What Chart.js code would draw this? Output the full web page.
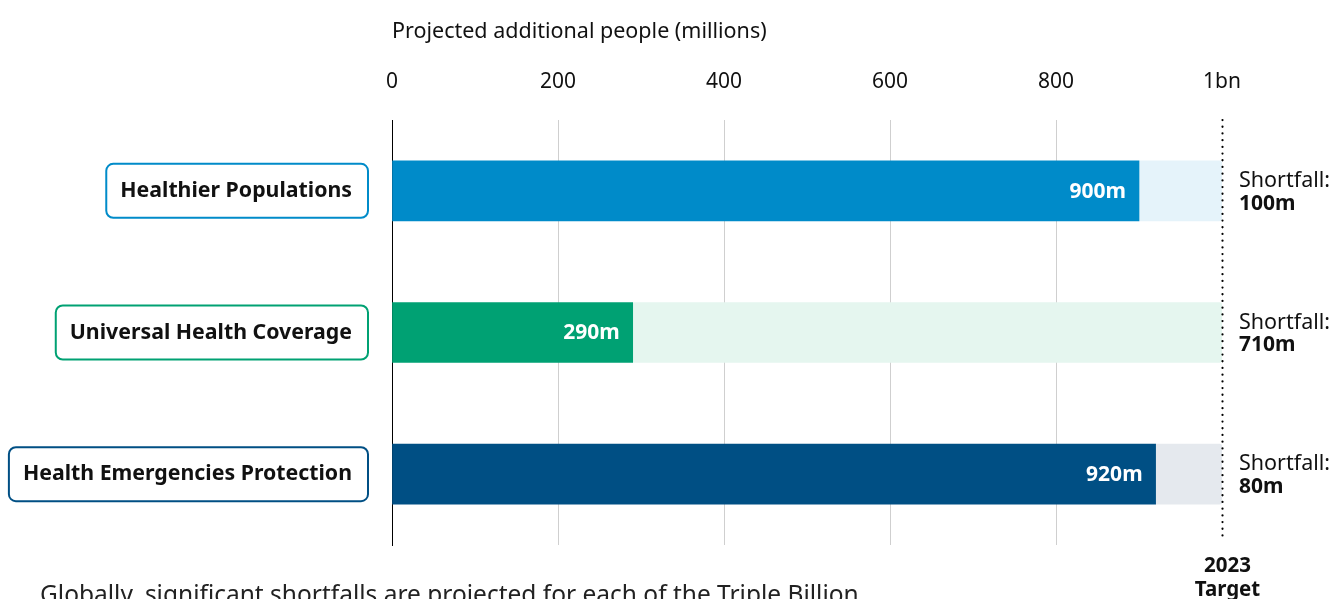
<!DOCTYPE html>
<html>
<head>
<meta charset="utf-8">
<script src="https://cdn.jsdelivr.net/npm/chart.js@4/dist/chart.umd.min.js"></script>
<style>
  html, body { margin: 0; padding: 0; background: #ffffff; overflow: hidden; }
  #wrap { position: relative; width: 1333px; height: 599px; }
</style>
</head>
<body>
<div id="wrap"><canvas id="chart" width="1333" height="599"></canvas></div>
<script>
// data
const categories = ['Healthier Populations', 'Universal Health Coverage', 'Health Emergencies Protection'];
const achieved = [900, 290, 920];
const shortfall = [100, 710, 80];
const target = 1000;
const tickValues = [0, 200, 400, 600, 800, 1000];
const tickLabels = ['0', '200', '400', '600', '800', '1bn'];

const barColors = ['#008bc9', '#00a173', '#004f84'];
const fadeColors = ['#e5f3fa', '#e5f6ef', '#e5e9ee'];

const FONT = '"Noto Sans", "Open Sans", sans-serif';

// boxed category labels, bar values, shortfall notes, target line
const annotate = {
    id: 'annotate',
    afterDatasetsDraw(chart) {
        const ctx = chart.ctx;
        const area = chart.chartArea;
        const xs = chart.scales.x;
        const mainMeta = chart.getDatasetMeta(0);

        ctx.save();

        //target line (dotted)
        const tx = Math.round(xs.getPixelForValue(target)) + 0.5;
        ctx.strokeStyle = '#000';
        ctx.lineWidth = 2.2;
        ctx.lineCap = 'round';
        ctx.setLineDash([0.1, 6.6]);
        ctx.beginPath();
        ctx.moveTo(tx, area.top);
        ctx.lineTo(tx, area.bottom - 9);
        ctx.stroke();
        ctx.setLineDash([]);

        categories.forEach((name, i) => {
            const bar = mainMeta.data[i];
            const cy = bar.y;

            // label box on the left
            ctx.font = 'bold 21.3px ' + FONT;
            const tw = ctx.measureText(name).width;
            const right = 368;
            const left = right - tw - 30;
            const h = 54;
            ctx.lineWidth = 2;
            ctx.strokeStyle = barColors[i];
            ctx.fillStyle = '#fff';
            ctx.beginPath();
            ctx.roundRect(left, cy - h / 2, right - left, h, 7);
            ctx.fill();
            ctx.stroke();
            ctx.fillStyle = '#111';
            ctx.textAlign = 'left';
            ctx.textBaseline = 'middle';
            ctx.fillText(name, left + 14, cy);

            // value inside the bar
            ctx.font = 'bold 21px ' + FONT;
            ctx.fillStyle = '#fff';
            ctx.textAlign = 'right';
            ctx.fillText(achieved[i] + 'm', bar.x - 13, cy + 1);

            // shortfall note
            ctx.textAlign = 'left';
            ctx.fillStyle = '#111';
            ctx.font = '21.5px ' + FONT;
            ctx.fillText('Shortfall:', area.right + 17, cy - 10);
            ctx.font = 'bold 21px ' + FONT;
            ctx.fillText(shortfall[i] + 'm', area.right + 17, cy + 13);
        });

        // target caption
        ctx.textAlign = 'center';
        ctx.font = 'bold 20.5px ' + FONT;
        ctx.fillStyle = '#111';
        ctx.fillText('2023', tx + 5, 566);
        ctx.fillText('Target', tx + 5, 590);

        // description text, cut by the bottom edge
        ctx.textAlign = 'left';
        ctx.textBaseline = 'alphabetic';
        ctx.font = '24.5px ' + FONT;
        ctx.fillStyle = '#222';
        ctx.fillText('Globally, significant shortfalls are projected for each of the Triple Billion', 40, 603);

        ctx.restore();
    }
};

new Chart(document.getElementById('chart'), {
    type: 'bar',
    data: {
        labels: categories,
        datasets: [
            {
                label: 'Projected',
                data: achieved,
                backgroundColor: barColors,
                barThickness: 60,
                borderRadius: 3,
                borderSkipped: 'start'
            },
            {
                label: 'Shortfall',
                data: shortfall,
                backgroundColor: fadeColors,
                barThickness: 60,
                borderRadius: 3,
                borderSkipped: 'start'
            }
        ]
    },
    options: {
        indexAxis: 'y',
        responsive: false,
        animation: false,
        layout: { padding: { left: 384, right: 111, top: 19, bottom: 54 } },
        plugins: {
            legend: { display: false },
            tooltip: { enabled: false }
        },
        scales: {
            x: {
                position: 'top',
                stacked: true,
                min: 0,
                max: target,
                afterBuildTicks: (scale) => {
                    scale.ticks = tickValues.map(v => ({ value: v }));
                },
                ticks: {
                    padding: 25,
                    color: '#111',
                    font: { family: FONT, size: 21 },
                    callback: (v) => tickLabels[tickValues.indexOf(v)]
                },
                grid: {
                    drawTicks: false,
                    color: (c) => (c.tick && (c.tick.value === 0 || c.tick.value === target)) ? 'rgba(0,0,0,0)' : '#cfcfcf',
                    lineWidth: 1
                },
                border: { display: false },
                title: {
                    display: true,
                    text: 'Projected additional people (millions)',
                    align: 'start',
                    color: '#111',
                    font: { family: FONT, size: 21.5 },
                    padding: { top: 0, bottom: 0 }
                }
            },
            y: {
                stacked: true,
                ticks: { display: false },
                grid: { display: false },
                border: { display: true, color: '#000', width: 1 }
            }
        }
    },
    plugins: [annotate]
});
</script>
</body>
</html>
